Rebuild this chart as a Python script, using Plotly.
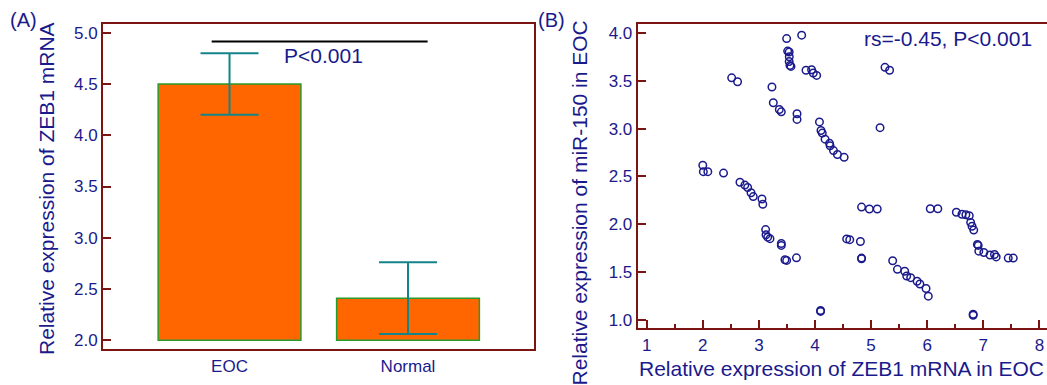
import plotly.graph_objects as go

# ---------------- data ----------------
groups = ["EOC", "Normal"]
group_means = [4.50, 2.41]
group_err = [0.30, 0.35]
bar_base = 2.0

sig_line_x = [-0.10, 1.11]
sig_line_y = 4.915
sig_text = "P<0.001"

zeb1_x = [3.495, 3.763, 3.513, 3.54, 3.542, 3.54, 3.554, 3.572, 3.84, 3.94, 3.97, 4.03,
          2.515, 2.62, 3.233, 3.257, 3.364, 3.40, 3.68, 3.68, 4.08, 4.107, 4.13, 4.18,
          4.26, 4.27, 4.33, 4.40, 4.52, 5.248, 5.33, 5.16,
          2.0, 2.01, 2.09, 2.37, 2.663, 2.75, 2.80, 2.86, 2.90, 3.055, 3.07, 3.12,
          3.127, 3.157, 3.198, 3.40, 3.40, 3.465, 3.495, 3.67, 4.10, 4.10,
          4.565, 4.62, 4.81, 4.83, 4.83, 4.83, 4.97, 5.11,
          5.385, 5.47, 5.60, 5.635, 5.706, 5.82, 5.87, 5.98, 6.02,
          6.055, 6.19, 6.52, 6.62, 6.69, 6.75, 6.775, 6.80, 6.83,
          6.895, 6.91, 6.92, 7.01, 7.12, 7.20, 7.23, 7.445, 7.535, 6.82, 6.82]
mir150_y = [3.94, 3.976, 3.81, 3.80, 3.75, 3.70, 3.66, 3.65, 3.61, 3.615, 3.58, 3.556,
            3.53, 3.49, 3.435, 3.27, 3.20, 3.175, 3.155, 3.096, 3.07, 2.98, 2.953, 2.89,
            2.846, 2.82, 2.77, 2.73, 2.70, 3.64, 3.61, 3.01,
            2.617, 2.55, 2.55, 2.535, 2.44, 2.41, 2.385, 2.33, 2.29, 2.264, 2.21, 1.945,
            1.89, 1.866, 1.85, 1.80, 1.78, 1.63, 1.623, 1.65, 1.10, 1.09,
            1.848, 1.84, 1.82, 1.647, 1.64, 2.18, 2.16, 2.16,
            1.62, 1.53, 1.51, 1.46, 1.443, 1.405, 1.377, 1.33, 1.25,
            2.163, 2.163, 2.126, 2.105, 2.10, 2.09, 2.02, 1.98, 1.94,
            1.79, 1.78, 1.72, 1.706, 1.68, 1.685, 1.66, 1.647, 1.647, 1.06, 1.05]
corr_text = "rs=-0.45, P<0.001"

# ---------------- style ----------------
W, H = 1047, 385
NAVY = "#1a1a8c"
FRAME = "#7d1414"
ORANGE = "#ff6600"
GREEN = "#2a9a2a"
TEAL = "#13848a"
FONT = "Liberation Sans, Arial, sans-serif"

def px_x(p):
    return p / W

def px_y(p):
    return 1 - p / H

fig = go.Figure()

fig.add_trace(go.Bar(
    x=groups, y=[m - bar_base for m in group_means], base=bar_base,
    width=0.8, marker=dict(color=ORANGE, line=dict(color=GREEN, width=1.5)),
    xaxis="x", yaxis="y", showlegend=False))

fig.add_trace(go.Scatter(
    x=groups, y=group_means, mode="markers", marker=dict(size=1, opacity=0),
    error_y=dict(type="data", array=group_err, color=TEAL, thickness=2, width=29),
    xaxis="x", yaxis="y", showlegend=False, hoverinfo="skip"))

fig.add_trace(go.Scatter(
    x=zeb1_x, y=mir150_y, mode="markers",
    marker=dict(symbol="circle-open", size=7.5, color=NAVY, line=dict(width=1.5, color=NAVY)),
    xaxis="x2", yaxis="y2", showlegend=False))

fig.add_shape(type="line", xref="x", yref="y", x0=sig_line_x[0], x1=sig_line_x[1],
              y0=sig_line_y, y1=sig_line_y, line=dict(color="black", width=2))

tickfont = dict(family=FONT, size=17, color=NAVY)
axis_common = dict(showgrid=False, zeroline=False, showline=True, linecolor=FRAME,
                   linewidth=2, tickfont=tickfont, tickcolor=FRAME, tickwidth=1.5)

fig.update_layout(
    width=W, height=H, margin=dict(l=0, r=0, t=0, b=0),
    paper_bgcolor="white", plot_bgcolor="white",
    xaxis=dict(domain=[px_x(103), px_x(534)], anchor="y", range=[-0.709, 1.706],
               type="category", ticks="", mirror=True, **axis_common),
    yaxis=dict(domain=[px_y(351), px_y(24)], anchor="x", range=[1.913, 5.087],
               dtick=0.5, tickformat=".1f", ticks="inside", ticklen=8, mirror=True,
               **axis_common),
    xaxis2=dict(domain=[px_x(637.7), 1.0], anchor="y2", range=[0.84, 8.136],
                dtick=1, ticks="inside", ticklen=8, mirror=True,
                minor=dict(dtick=0.5, ticks="inside", ticklen=4, tickcolor=FRAME, tickwidth=1.5),
                **axis_common),
    yaxis2=dict(domain=[px_y(330), px_y(24)], anchor="x2", range=[0.914, 4.094],
                dtick=0.5, tickformat=".1f", ticks="inside", ticklen=8, mirror=False,
                **axis_common),
)

ann_font = dict(family=FONT, size=21, color=NAVY)
C = dict(xanchor="center", yanchor="middle", showarrow=False)
anns = [
    dict(text="(A)", x=px_x(23), y=px_y(20), xref="paper", yref="paper",
         font=dict(family=FONT, size=20, color=NAVY), **C),
    dict(text="(B)", x=px_x(551), y=px_y(20), xref="paper", yref="paper",
         font=dict(family=FONT, size=20, color=NAVY), **C),
    dict(text="Relative expression of ZEB1 mRNA", x=px_x(46), y=px_y(190),
         xref="paper", yref="paper", textangle=-90, font=ann_font, **C),
    dict(text="Relative expression of miR-150 in EOC", x=px_x(580), y=px_y(204.6),
         xref="paper", yref="paper", textangle=-90, font=ann_font, **C),
    dict(text="Relative expression of ZEB1 mRNA in EOC", x=px_x(841), y=px_y(370),
         xref="paper", yref="paper", font=ann_font, **C),
    dict(text=sig_text, x=0.524, y=4.777, xref="x", yref="y", font=ann_font, **C),
    dict(text=corr_text, x=px_x(948), y=px_y(39), xref="paper", yref="paper",
         font=ann_font, **C),
]
fig.update_layout(annotations=anns)

fig.write_html("out.html", config={"displayModeBar": False},
               post_script="document.body.style.margin='0';document.body.style.overflow='hidden';")
